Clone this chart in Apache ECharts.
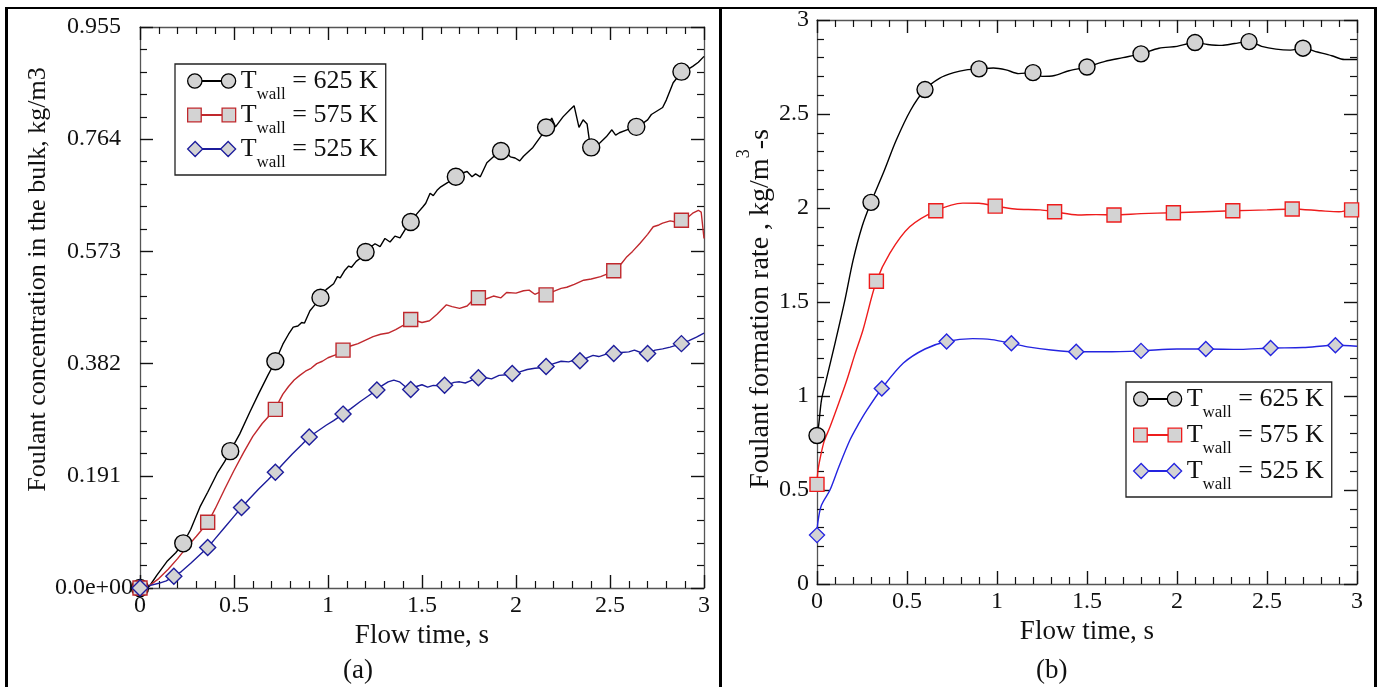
<!DOCTYPE html>
<html>
<head>
<meta charset="utf-8">
<script src="https://cdn.jsdelivr.net/npm/echarts@6/dist/echarts.min.js"></script>
<style>
html,body{margin:0;padding:0;background:#fff;}
#chart{width:1384px;height:687px;}
</style>
</head>
<body>
<div id="chart"></div>
<script>
// ---------- DATA ----------
const seriesNames = ['625', '575', '525'];
const xTicksLabel = 'Flow time, s';
const yNameA = 'Foulant concentration in the bulk, kg/m3';

// Panel (a): foulant concentration, kg/m3 vs flow time, s
const lineA625 = [[0,0],[0.05,0.003],[0.09,0.022],[0.143,0.045],[0.19,0.06],[0.23,0.076],[0.27,0.1],[0.319,0.138],[0.36,0.163],[0.41,0.195],[0.45,0.215],[0.48,0.233],[0.53,0.262],[0.585,0.3],[0.63,0.33],[0.68,0.362],[0.72,0.386],[0.76,0.415],[0.79,0.432],[0.815,0.444],[0.84,0.446],[0.86,0.452],[0.875,0.451],[0.904,0.472],[0.93,0.482],[0.957,0.494],[0.99,0.508],[1.03,0.518],[1.05,0.53],[1.065,0.528],[1.09,0.541],[1.11,0.548],[1.125,0.546],[1.15,0.556],[1.17,0.561],[1.2,0.572],[1.225,0.58],[1.25,0.586],[1.277,0.581],[1.303,0.595],[1.33,0.589],[1.356,0.599],[1.383,0.596],[1.41,0.61],[1.441,0.623],[1.47,0.636],[1.505,0.649],[1.52,0.655],[1.543,0.672],[1.56,0.668],[1.58,0.677],[1.6,0.683],[1.61,0.686],[1.64,0.691],[1.681,0.700],[1.71,0.706],[1.74,0.709],[1.766,0.700],[1.785,0.705],[1.81,0.700],[1.845,0.724],[1.88,0.734],[1.925,0.744],[1.95,0.74],[1.97,0.734],[1.995,0.732],[2.02,0.727],[2.04,0.735],[2.06,0.741],[2.09,0.75],[2.13,0.768],[2.165,0.784],[2.19,0.80],[2.21,0.785],[2.25,0.802],[2.287,0.814],[2.309,0.821],[2.335,0.784],[2.357,0.797],[2.378,0.79],[2.39,0.763],[2.40,0.75],[2.425,0.752],[2.447,0.758],[2.48,0.768],[2.51,0.78],[2.53,0.771],[2.55,0.775],[2.59,0.78],[2.64,0.785],[2.67,0.79],[2.70,0.797],[2.72,0.806],[2.75,0.812],[2.78,0.818],[2.80,0.831],[2.836,0.86],[2.883,0.879],[2.91,0.882],[2.94,0.888],[2.97,0.895],[3.0,0.905]];
const markA625 = [[0,0],[0.23,0.076],[0.48,0.233],[0.72,0.386],[0.96,0.494],[1.2,0.572],[1.44,0.623],[1.68,0.700],[1.92,0.744],[2.16,0.784],[2.40,0.75],[2.64,0.785],[2.88,0.879]];

const lineA575 = [[0,0],[0.05,0.004],[0.1,0.016],[0.15,0.032],[0.2,0.05],[0.25,0.07],[0.3,0.088],[0.362,0.112],[0.4,0.135],[0.45,0.168],[0.5,0.2],[0.55,0.23],[0.6,0.258],[0.65,0.28],[0.718,0.304],[0.74,0.318],[0.76,0.33],[0.79,0.343],[0.82,0.354],[0.85,0.362],[0.88,0.369],[0.91,0.374],[0.94,0.382],[0.97,0.386],[1.0,0.392],[1.04,0.397],[1.08,0.405],[1.12,0.412],[1.16,0.416],[1.2,0.422],[1.24,0.428],[1.28,0.432],[1.32,0.434],[1.36,0.44],[1.4,0.447],[1.441,0.457],[1.47,0.455],[1.5,0.452],[1.54,0.455],[1.58,0.466],[1.63,0.482],[1.66,0.479],[1.70,0.476],[1.74,0.48],[1.77,0.49],[1.80,0.494],[1.84,0.492],[1.88,0.497],[1.92,0.494],[1.95,0.503],[2.0,0.502],[2.04,0.506],[2.07,0.507],[2.1,0.5],[2.13,0.504],[2.165,0.499],[2.2,0.505],[2.24,0.51],[2.27,0.512],[2.31,0.517],[2.36,0.524],[2.4,0.526],[2.45,0.53],[2.49,0.535],[2.52,0.540],[2.56,0.552],[2.59,0.564],[2.62,0.573],[2.66,0.587],[2.7,0.602],[2.73,0.615],[2.76,0.618],[2.78,0.621],[2.82,0.625],[2.85,0.623],[2.883,0.626],[2.91,0.63],[2.94,0.638],[2.97,0.643],[2.985,0.64],[3.0,0.595]];
const markA575 = [[0,0],[0.36,0.112],[0.72,0.304],[1.08,0.405],[1.44,0.457],[1.80,0.494],[2.16,0.499],[2.52,0.540],[2.88,0.626]];

const lineA525 = [[0,0],[0.05,0.004],[0.1,0.008],[0.14,0.012],[0.18,0.02],[0.22,0.028],[0.27,0.042],[0.31,0.054],[0.36,0.069],[0.4,0.084],[0.45,0.103],[0.5,0.122],[0.54,0.137],[0.58,0.151],[0.63,0.168],[0.68,0.184],[0.72,0.197],[0.76,0.211],[0.81,0.228],[0.86,0.244],[0.9,0.257],[0.94,0.266],[0.99,0.277],[1.03,0.285],[1.08,0.296],[1.12,0.305],[1.17,0.317],[1.21,0.326],[1.26,0.337],[1.29,0.345],[1.32,0.351],[1.35,0.354],[1.38,0.351],[1.41,0.343],[1.44,0.338],[1.47,0.343],[1.5,0.346],[1.53,0.342],[1.56,0.345],[1.6,0.344],[1.63,0.345],[1.67,0.35],[1.7,0.351],[1.73,0.349],[1.76,0.353],[1.8,0.358],[1.84,0.358],[1.87,0.356],[1.91,0.362],[1.95,0.363],[1.98,0.365],[2.02,0.368],[2.06,0.372],[2.1,0.374],[2.13,0.375],[2.16,0.377],[2.2,0.382],[2.24,0.386],[2.28,0.385],[2.31,0.388],[2.34,0.387],[2.38,0.392],[2.41,0.396],[2.44,0.394],[2.48,0.398],[2.52,0.399],[2.56,0.401],[2.6,0.402],[2.63,0.405],[2.67,0.4],[2.7,0.399],[2.74,0.405],[2.78,0.407],[2.82,0.41],[2.85,0.413],[2.88,0.416],[2.92,0.421],[2.96,0.427],[3.0,0.434]];
const markA525 = [[0,0],[0.18,0.02],[0.36,0.069],[0.54,0.137],[0.72,0.197],[0.9,0.257],[1.08,0.296],[1.26,0.337],[1.44,0.338],[1.62,0.345],[1.80,0.358],[1.98,0.365],[2.16,0.377],[2.34,0.387],[2.52,0.399],[2.70,0.399],[2.88,0.416]];

// Panel (b): foulant formation rate, kg/m3-s vs flow time, s
const lineB625 = [[0,0.79],[0.01,0.85],[0.025,0.98],[0.05,1.08],[0.1,1.28],[0.155,1.51],[0.2,1.72],[0.25,1.9],[0.3,2.03],[0.37,2.19],[0.44,2.36],[0.52,2.52],[0.6,2.63],[0.68,2.69],[0.76,2.72],[0.83,2.735],[0.9,2.74],[0.98,2.745],[1.05,2.735],[1.12,2.715],[1.2,2.72],[1.25,2.70],[1.32,2.705],[1.4,2.73],[1.5,2.75],[1.6,2.78],[1.7,2.80],[1.8,2.82],[1.9,2.85],[2.0,2.86],[2.1,2.88],[2.17,2.87],[2.25,2.865],[2.32,2.875],[2.4,2.885],[2.47,2.86],[2.55,2.845],[2.63,2.84],[2.7,2.85],[2.78,2.83],[2.86,2.81],[2.93,2.79],[3.0,2.79]];
const markB625 = [[0,0.79],[0.3,2.03],[0.6,2.63],[0.9,2.74],[1.2,2.72],[1.5,2.75],[1.8,2.82],[2.1,2.88],[2.4,2.885],[2.7,2.85]];

const lineB575 = [[0,0.53],[0.005,0.6],[0.02,0.68],[0.04,0.76],[0.072,0.835],[0.12,0.96],[0.166,1.085],[0.21,1.22],[0.255,1.35],[0.33,1.61],[0.405,1.76],[0.515,1.90],[0.66,1.985],[0.81,2.026],[0.9,2.025],[0.99,2.01],[1.1,1.995],[1.24,1.99],[1.32,1.98],[1.45,1.963],[1.55,1.965],[1.65,1.963],[1.8,1.97],[1.98,1.975],[2.15,1.98],[2.31,1.985],[2.5,1.99],[2.64,1.995],[2.8,1.985],[2.9,1.98],[2.97,1.99],[3.0,1.99]];
const markB575 = [[0,0.53],[0.33,1.61],[0.66,1.985],[0.99,2.01],[1.32,1.98],[1.65,1.963],[1.98,1.975],[2.31,1.985],[2.64,1.995],[2.97,1.99]];

const lineB525 = [[0,0.26],[0.005,0.33],[0.025,0.42],[0.072,0.50],[0.12,0.62],[0.183,0.766],[0.23,0.85],[0.277,0.925],[0.36,1.04],[0.48,1.175],[0.6,1.25],[0.72,1.29],[0.865,1.305],[0.97,1.30],[1.08,1.28],[1.18,1.26],[1.3,1.245],[1.44,1.235],[1.6,1.235],[1.8,1.24],[2.0,1.25],[2.16,1.25],[2.35,1.248],[2.52,1.255],[2.7,1.258],[2.88,1.27],[3.0,1.265]];
const markB525 = [[0,0.26],[0.36,1.04],[0.72,1.29],[1.08,1.28],[1.44,1.235],[1.80,1.24],[2.16,1.25],[2.52,1.255],[2.88,1.27]];

// ---------- STYLE ----------
const FONT = "'Liberation Serif', 'DejaVu Serif', serif";
const GRAY = '#d3d3d3';
const colA = {'625':'#000000','575':'#c0282d','525':'#1c1c9c'};
const colB = {'625':'#000000','575':'#ee1c1c','525':'#2424e0'};
const symb = {'625':'circle','575':'rect','525':'diamond'};
const symSizeA = {'625':17,'575':14,'525':16};
const symSizeB = {'625':16,'575':14,'525':15};

const chart = echarts.init(document.getElementById('chart'), null, {renderer:'canvas'});

function xAx(grid, pos, labels){
  return {
    type:'value', gridIndex:grid, position:pos, min:0, max:3, interval:0.5,
    axisLine:{show:true, onZero:false, lineStyle:{color:'#555', width:1.3}},
    axisTick:{show:true, inside:true, length:13, lineStyle:{color:'#111', width:1.4}},
    minorTick:{show:true, splitNumber:5, length:7, lineStyle:{color:'#111', width:1.2}},
    splitLine:{show:false}, minorSplitLine:{show:false},
    axisLabel:{show:labels, margin:6, fontFamily:FONT, fontSize:24, color:'#111',
      formatter:v=>String(+v.toFixed(2))},
    name: labels ? xTicksLabel : '', nameLocation:'middle', nameGap:28,
    nameTextStyle:{fontFamily:FONT, fontSize:27, color:'#111'}
  };
}
function yAx(grid, pos, labels, cfg){
  return Object.assign({
    type:'value', gridIndex:grid, position:pos,
    axisLine:{show:true, onZero:false, lineStyle:{color:'#555', width:1.3}},
    axisTick:{show:true, inside:true, length:13, lineStyle:{color:'#111', width:1.4}},
    minorTick:{show:true, splitNumber:5, length:7, lineStyle:{color:'#111', width:1.2}},
    splitLine:{show:false}, minorSplitLine:{show:false},
  }, cfg, {axisLabel:Object.assign({show:labels, fontFamily:FONT, fontSize:24, color:'#111'}, cfg.axisLabel||{})});
}

const pathCircle = 'path://M0.5,7.5 A7,7 0 1 1 14.5,7.5 A7,7 0 1 1 0.5,7.5 Z M14.5,7.2 L33.5,7.2 L33.5,7.8 L14.5,7.8 Z M33.5,7.5 A7,7 0 1 1 47.5,7.5 A7,7 0 1 1 33.5,7.5 Z';
const pathRect = 'path://M1,1 L14,1 L14,14 L1,14 Z M14,7.2 L34,7.2 L34,7.8 L14,7.8 Z M34,1 L47,1 L47,14 L34,14 Z';
const pathDiam = 'path://M0,7.5 L7.5,0 L15,7.5 L7.5,15 Z M15,7.2 L33,7.2 L33,7.8 L15,7.8 Z M33,7.5 L40.5,0 L48,7.5 L40.5,15 Z';
const icons = {'625':pathCircle,'575':pathRect,'525':pathDiam};

function legendData(cols){
  return seriesNames.map(n=>({name:n, icon:icons[n], itemStyle:{color:GRAY, borderColor:cols[n], borderWidth:1.3}}));
}
const legendRich = {
  t:{fontFamily:FONT, fontSize:26, color:'#111', lineHeight:26, verticalAlign:'top'},
  s:{fontFamily:FONT, fontSize:17, color:'#111', lineHeight:16, padding:[18,0,0,0], verticalAlign:'top'}
};
function legendFmt(n){ return '{t|T}{s|wall}{t| = ' + n + ' K}'; }

const series = [];
function addSeries(cols, sizes, lines, marks, xi, yi, smooth){
  seriesNames.forEach((n,i)=>{
    series.push({name:n, type:'line', xAxisIndex:xi, yAxisIndex:yi, data:lines[i], showSymbol:false,
      smooth:smooth, lineStyle:{color:cols[n], width:1.4}, itemStyle:{color:cols[n]}, z:2, silent:true});
    series.push({name:n, type:'scatter', xAxisIndex:xi, yAxisIndex:yi, data:marks[i], symbol:symb[n],
      symbolSize:sizes[n], itemStyle:{color:GRAY, borderColor:cols[n], borderWidth:1.4, opacity:1}, z:3, silent:true});
  });
}
addSeries(colA, symSizeA, [lineA625,lineA575,lineA525], [markA625,markA575,markA525], 0, 0, false);
addSeries(colB, symSizeB, [lineB625,lineB575,lineB525], [markB625,markB575,markB525], 2, 2, 0.3);

const option = {
  animation:false,
  backgroundColor:'#fff',
  grid:[
    {left:140, top:27, width:564, height:561},
    {left:817, top:20, width:540, height:564}
  ],
  xAxis:[ xAx(0,'bottom',true), xAx(0,'top',false), xAx(1,'bottom',true), xAx(1,'top',false) ],
  yAxis:[
    yAx(0,'left',true,{min:0,max:0.955,interval:0.191,
      axisLabel:{align:'center', margin:46, formatter:v=> v===0 ? '0.0e+00' : v.toFixed(3)},
      name:yNameA, nameLocation:'middle', nameGap:88,
      nameTextStyle:{fontFamily:FONT, fontSize:26, color:'#111', padding:[0,0,0,56]}}),
    yAx(0,'right',false,{min:0,max:0.955,interval:0.191}),
    yAx(1,'left',true,{min:0,max:3,interval:0.5,
      axisLabel:{margin:8, formatter:v=>String(+v.toFixed(1))},
      name:'{a|Foulant formation rate , kg/m}{sup|3}{a|-s}', nameLocation:'middle', nameGap:50,
      nameTextStyle:{padding:[0,14,0,0], rich:{
        a:{fontFamily:FONT, fontSize:28, color:'#111', lineHeight:28, padding:[12,0,0,0], verticalAlign:'top'},
        sup:{fontFamily:FONT, fontSize:18, color:'#111', lineHeight:18, verticalAlign:'top'}
      }}}),
    yAx(1,'right',false,{min:0,max:3,interval:0.5})
  ],
  legend:[
    {left:175, top:64, orient:'vertical', itemWidth:48, itemHeight:15, itemGap:-1,
     padding:[4,8,4,12], borderColor:'#222', borderWidth:1.3, backgroundColor:'#fff',
     data:legendData(colA), formatter:legendFmt, textStyle:{rich:legendRich}, selectedMode:false},
    {left:1126, top:382, orient:'vertical', itemWidth:48, itemHeight:15, itemGap:1,
     padding:[4,8,4,7], borderColor:'#222', borderWidth:1.3, backgroundColor:'#fff',
     data:legendData(colB), formatter:legendFmt, textStyle:{rich:legendRich}, selectedMode:false}
  ],
  series:series,
  graphic:[
    {type:'rect', shape:{x:5, y:7, width:3, height:690}, style:{fill:'#000'}, silent:true},
    {type:'rect', shape:{x:5, y:7, width:1372, height:2}, style:{fill:'#000'}, silent:true},
    {type:'rect', shape:{x:719, y:7, width:3, height:690}, style:{fill:'#000'}, silent:true},
    {type:'rect', shape:{x:1374, y:7, width:3, height:690}, style:{fill:'#000'}, silent:true},
    {type:'text', left:343, top:657, style:{text:'(a)', font:"27px 'Liberation Serif'", fill:'#111'}, silent:true},
    {type:'text', left:1036, top:657, style:{text:'(b)', font:"27px 'Liberation Serif'", fill:'#111'}, silent:true}
  ]
};
chart.setOption(option);
</script>
</body>
</html>
